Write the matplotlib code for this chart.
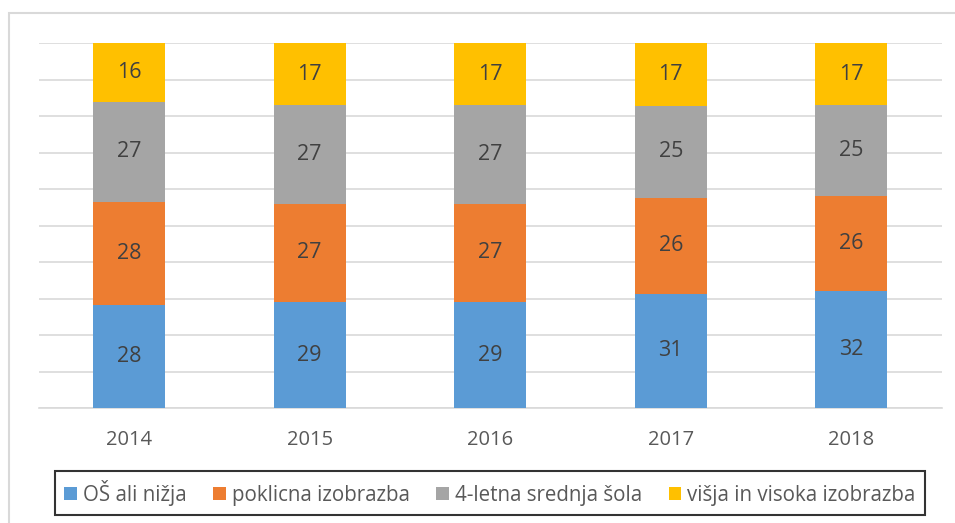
import numpy as np
import matplotlib.pyplot as plt
from matplotlib.patches import Rectangle

plt.rcParams['font.family'] = ['Open Sans', 'DejaVu Sans']

years = ['2014', '2015', '2016', '2017', '2018']
series = ['OŠ ali nižja', 'poklicna izobrazba', '4-letna srednja šola', 'višja in visoka izobrazba']
os_nizja = [28, 29, 29, 31, 32]
poklicna = [28, 27, 27, 26, 26]
srednja = [27, 27, 27, 25, 25]
visja = [16, 17, 17, 17, 17]
colors = ['#5B9BD5', '#ED7D31', '#A5A5A5', '#FFC000']

data = np.array([os_nizja, poklicna, srednja, visja], dtype=float)
pct = data / data.sum(axis=0) * 100  # 100% stacked

fig = plt.figure(figsize=(9.55, 5.23), dpi=100)
ax = fig.add_axes([39 / 955, 1 - 408 / 523, 902.5 / 955, 365 / 523])

x = np.arange(len(years))
bottom = np.zeros(len(years))
for i in range(len(series)):
    bars = ax.bar(x, pct[i], 0.4, bottom=bottom, color=colors[i], label=series[i], zorder=3)
    for j in range(len(years)):
        ax.text(x[j], bottom[j] + pct[i][j] / 2, str(int(data[i][j])),
                ha='center', va='center', fontsize=15.5, color='#404040', zorder=4)
    bottom += pct[i]

ax.set_xlim(-0.5, len(years) - 0.5)
ax.set_ylim(0, 100)
ax.set_yticks(np.arange(0, 101, 10))
ax.set_yticklabels([])
ax.tick_params(axis='y', length=0)
ax.tick_params(axis='x', length=0, pad=16, labelsize=14.5, labelcolor='#595959')
ax.set_xticks(x)
ax.set_xticklabels(years)
ax.grid(axis='y', color='#D9D9D9', linewidth=1.2, zorder=0)
for s in ['top', 'right', 'left']:
    ax.spines[s].set_visible(False)
ax.spines['bottom'].set_color('#D9D9D9')
ax.spines['bottom'].set_linewidth(1.2)

leg = fig.legend(loc='center', bbox_to_anchor=(490 / 955, 1 - 493 / 523), ncol=4,
                 fontsize=14.8, frameon=True, fancybox=False, handlelength=0.6,
                 handleheight=0.6, handletextpad=0.3, columnspacing=1.3, borderpad=0.45)
leg.get_frame().set_edgecolor('black')
leg.get_frame().set_linewidth(1.5)
for t in leg.get_texts():
    t.set_color('#595959')

# chart area border
fig.patches.append(Rectangle((9 / 955, -0.1), 1.1, 1 - 13 / 523 + 0.1, transform=fig.transFigure,
                             fill=False, edgecolor='#D9D9D9', linewidth=1.5))

fig.savefig('out.png', dpi=100)
